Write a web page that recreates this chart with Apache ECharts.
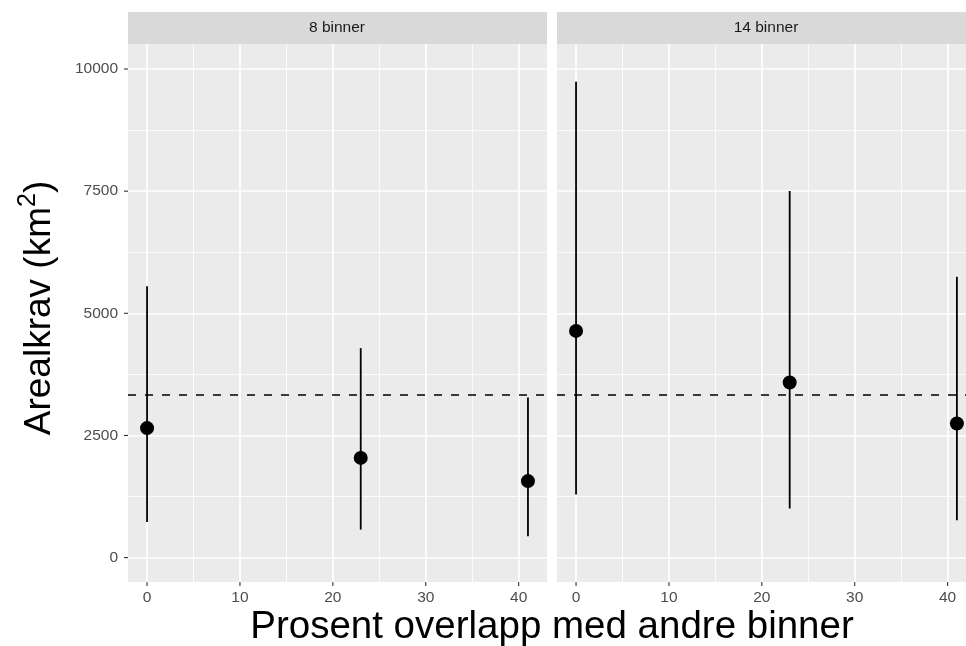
<!DOCTYPE html>
<html>
<head>
<meta charset="utf-8">
<script src="https://cdn.jsdelivr.net/npm/echarts@6/dist/echarts.min.js"></script>
<style>
  html, body { margin: 0; padding: 0; background: #fff; }
  #chart { width: 966px; height: 646px; }
</style>
</head>
<body>
<div id="chart"></div>
<script>
// overlap percentages (x) and area estimates per panel
const panels = ['8 binner', '14 binner'];
const xValues = [0, 23, 41];
const mean8 = [2650, 2040, 1565];
const low8 = [729, 573, 436];
const high8 = [5556, 4287, 3277];
const mean14 = [4640, 3584, 2744];
const low14 = [1290, 1003, 764];
const high14 = [9740, 7502, 5747];
const refLine = 3324;

const xTicks = [0, 10, 20, 30, 40];
const xMinor = [5, 15, 25, 35];
const yTicks = [0, 2500, 5000, 7500, 10000];
const yMinor = [1250, 3750, 6250, 8750];

const FONT = "'Liberation Sans', Arial, sans-serif";
const chart = echarts.init(document.getElementById('chart'));

// right panel is cut by the page edge, so its visible range stops earlier
const xMax = [43.05, 41.98];

function xAxisFor(i) {
  return {
    gridIndex: i, type: 'value', min: -2.05, max: xMax[i],
    axisLine: { show: false },
    splitLine: { show: false },
    axisTick: { show: false },
    axisLabel: { customValues: xTicks, color: '#4D4D4D', fontSize: 15.5, fontFamily: FONT, margin: 8 }
  };
}
function yAxisFor(i) {
  return {
    gridIndex: i, type: 'value', min: -500, max: 10512,
    axisLine: { show: false },
    splitLine: { show: false },
    axisTick: { show: false },
    axisLabel: {
      show: i === 0, customValues: yTicks, color: '#4D4D4D', fontSize: 15.5, fontFamily: FONT, margin: 10,
      formatter: v => String(v)
    }
  };
}

function gridLines(i) {
  const d = [];
  xTicks.forEach(v => d.push({ xAxis: v, lineStyle: { width: 1.7 } }));
  xMinor.forEach(v => d.push({ xAxis: v, lineStyle: { width: 0.8 } }));
  yTicks.forEach(v => d.push({ yAxis: v, lineStyle: { width: 1.7 } }));
  yMinor.forEach(v => d.push({ yAxis: v, lineStyle: { width: 0.8 } }));
  return {
    type: 'line', xAxisIndex: i, yAxisIndex: i, data: [], z: 1,
    markLine: {
      z: 1, silent: true, symbol: ['none', 'none'], label: { show: false },
      lineStyle: { color: '#fff', type: 'solid' },
      data: d
    }
  };
}

// small outside tick marks, like ggplot's axis.ticks
function tickMarks(i, dim, values) {
  return {
    type: 'custom', xAxisIndex: i, yAxisIndex: i, z: 2, clip: false, silent: true,
    data: values.map(v => [v]),
    renderItem: function (params, api) {
      const cs = params.coordSys;
      const v = api.value(0);
      let shape;
      if (dim === 'x') {
        const px = api.coord([v, 0])[0];
        const y0 = cs.y + cs.height;
        shape = { x1: px, y1: y0, x2: px, y2: y0 + 4 };
      } else {
        const py = api.coord([0, v])[1];
        shape = { x1: cs.x - 4, y1: py, x2: cs.x, y2: py };
      }
      return { type: 'line', shape: shape, style: { stroke: '#333', lineWidth: 1.1 } };
    }
  };
}

function errorBars(i, lo, hi) {
  return {
    type: 'custom', xAxisIndex: i, yAxisIndex: i, z: 3,
    data: xValues.map((x, k) => [x, lo[k], hi[k]]),
    encode: { x: 0, y: [1, 2] },
    renderItem: function (params, api) {
      const x = api.value(0);
      const a = api.coord([x, api.value(1)]);
      const b = api.coord([x, api.value(2)]);
      return {
        type: 'line',
        shape: { x1: a[0], y1: a[1], x2: b[0], y2: b[1] },
        style: { stroke: '#000', lineWidth: 1.8 }
      };
    }
  };
}

function points(i, m) {
  return {
    type: 'scatter', xAxisIndex: i, yAxisIndex: i, z: 4,
    symbolSize: 14, itemStyle: { color: '#000', opacity: 1 },
    data: xValues.map((x, k) => [x, m[k]]),
    markLine: {
      z: 5, silent: true, symbol: ['none', 'none'], label: { show: false },
      lineStyle: { color: '#000', type: [8, 9], width: 1.5 },
      data: [{ yAxis: refLine }]
    }
  };
}

chart.setOption({
  animation: false,
  backgroundColor: '#fff',
  grid: [
    { left: 128, top: 44, width: 419, height: 538, show: true, backgroundColor: '#EBEBEB', borderWidth: 0 },
    { left: 557, top: 44, width: 409, height: 538, show: true, backgroundColor: '#EBEBEB', borderWidth: 0 }
  ],
  xAxis: [xAxisFor(0), xAxisFor(1)],
  yAxis: [yAxisFor(0), yAxisFor(1)],
  graphic: [
    { type: 'rect', shape: { x: 128, y: 12, width: 419, height: 32 }, style: { fill: '#D9D9D9' } },
    { type: 'rect', shape: { x: 557, y: 12, width: 419, height: 32 }, style: { fill: '#D9D9D9' } },
    { type: 'text', x: 337, y: 28, style: { text: panels[0], fill: '#1A1A1A', font: '15.5px ' + FONT, textAlign: 'center', textVerticalAlign: 'middle' } },
    { type: 'text', x: 766, y: 28, style: { text: panels[1], fill: '#1A1A1A', font: '15.5px ' + FONT, textAlign: 'center', textVerticalAlign: 'middle' } },
    { type: 'text', x: 552, y: 627, style: { text: 'Prosent overlapp med andre binner', fill: '#000', font: '38.5px ' + FONT, textAlign: 'center', textVerticalAlign: 'middle' } },
    {
      type: 'text', x: 40, y: 308, rotation: Math.PI / 2,
      style: {
        text: 'Arealkrav (km{sup|2})', fill: '#000', font: '37px ' + FONT,
        textAlign: 'center', textVerticalAlign: 'middle',
        rich: { sup: { fontSize: 25, fontFamily: FONT, verticalAlign: 'top', padding: [0, 0, 24, 0] } }
      }
    }
  ],
  series: [
    gridLines(0), gridLines(1),
    tickMarks(0, 'x', xTicks), tickMarks(1, 'x', xTicks), tickMarks(0, 'y', yTicks),
    errorBars(0, low8, high8), errorBars(1, low14, high14),
    points(0, mean8), points(1, mean14)
  ]
});
</script>
</body>
</html>
